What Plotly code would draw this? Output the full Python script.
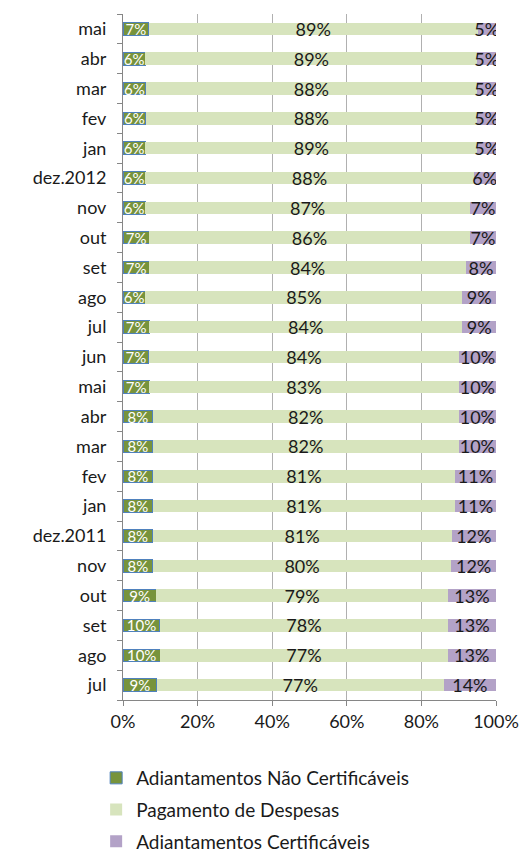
import plotly.graph_objects as go

months = ["jul", "ago", "set", "out", "nov", "dez.2011", "jan", "fev", "mar", "abr",
          "mai", "jun", "jul", "ago", "set", "out", "nov", "dez.2012", "jan", "fev",
          "mar", "abr", "mai"]
nao_cert = [9, 10, 10, 9, 8, 8, 8, 8, 8, 8, 7, 7, 7, 6, 7, 7, 6, 6, 6, 6, 6, 6, 7]
pagamento = [77, 77, 78, 79, 80, 81, 81, 81, 82, 82, 83, 84, 84, 85, 84, 86, 87, 88, 89, 88, 88, 89, 89]
cert = [14, 13, 13, 13, 12, 12, 11, 11, 10, 10, 10, 10, 9, 9, 8, 7, 7, 6, 5, 5, 5, 5, 5]

ypos = list(range(len(months)))
FONT = "Lato, 'Open Sans', sans-serif"

fig = go.Figure()
fig.add_trace(go.Bar(
    y=ypos, x=nao_cert, orientation="h", name="Adiantamentos Não Certificáveis",
    marker=dict(color="#77933C", line=dict(color="#4F81BD", width=1)),
    text=[f"{v}%" for v in nao_cert], textposition="inside", insidetextanchor="middle",
    constraintext="none", textfont=dict(color="white", size=15, family=FONT),
    legendgroup="a", hoverinfo="skip"))
fig.add_trace(go.Bar(
    y=ypos, x=pagamento, orientation="h", name="Pagamento de Despesas",
    marker=dict(color="#D7E4BD", line=dict(width=0)),
    text=[f"{v}%" for v in pagamento], textposition="inside", insidetextanchor="middle",
    constraintext="none", textfont=dict(color="#1a1a1a", size=18, family=FONT),
    legendgroup="b", hoverinfo="skip"))
fig.add_trace(go.Bar(
    y=ypos, x=cert, orientation="h", name="Adiantamentos Certificáveis",
    marker=dict(color="#B3A2C7", line=dict(width=0)),
    text=[f"{v}%" for v in cert], textposition="inside", insidetextanchor="middle",
    constraintext="none", textfont=dict(color="#1a1a1a", size=18, family=FONT),
    legendgroup="c", hoverinfo="skip"))

fig.update_layout(
    width=521, height=859,
    barmode="stack", barnorm="percent", bargap=0.58,
    plot_bgcolor="white", paper_bgcolor="white",
    font=dict(family=FONT, size=18, color="#1a1a1a"),
    margin=dict(l=115, r=33, t=6, b=167, autoexpand=False),
    xaxis=dict(range=[0, 100], tickvals=[0, 20, 40, 60, 80, 100],
               ticktext=["0%", "20%", "40%", "60%", "80%", "100%"],
               showgrid=True, gridcolor="#B0B0B0", gridwidth=1,
               showline=True, linecolor="#868686", linewidth=1,
               ticks="outside", ticklen=5, tickcolor="#868686",
               tickfont=dict(size=18), zeroline=False, fixedrange=True),
    yaxis=dict(range=[-0.5, len(months) - 0.5], tickvals=ypos, ticktext=months,
               showgrid=False, showline=True, linecolor="#868686", linewidth=1,
               ticks="", ticklabelstandoff=12,
               minor=dict(tickvals=[i - 0.5 for i in range(len(months) + 1)],
                          ticks="outside", ticklen=5, tickcolor="#868686", showgrid=False),
               tickfont=dict(size=18), zeroline=False, fixedrange=True),
    legend=dict(orientation="v", x=-0.072, xanchor="left", y=-0.086, yanchor="top",
                traceorder="grouped", tracegroupgap=4,
                font=dict(size=19), itemwidth=30),
    showlegend=True,
)

fig.write_html("out.html")
